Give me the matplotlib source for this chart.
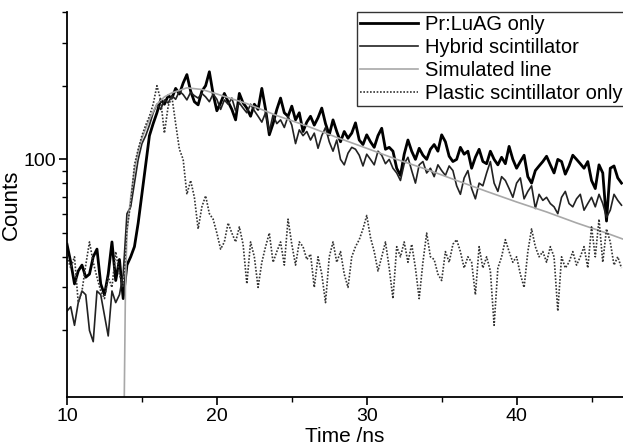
import numpy as np
import matplotlib
matplotlib.use("Agg")
import matplotlib.pyplot as plt
from matplotlib.ticker import LogLocator, NullFormatter, FixedLocator, FixedFormatter

plt.rcParams["font.family"] = ["Liberation Sans", "DejaVu Sans"]

# ── Data ─────────────────────────────────────────────────────────────────────
time_ns = np.arange(10.0, 47.001, 0.25)

prluag_counts = [
    45, 38, 31, 35, 37, 33, 34, 40, 43, 31, 28, 34, 46, 32, 39, 27,
    37, 40, 44, 55, 72, 95, 125, 140, 155, 175, 168, 182, 178, 195, 185, 205,
    222, 190, 172, 167, 190, 200, 228, 185, 158, 170, 186, 172, 160, 145, 186, 170,
    162, 150, 168, 160, 195, 160, 126, 140, 160, 178, 155, 150, 165, 145, 155, 130,
    142, 150, 138, 148, 162, 140, 126, 145, 130, 118, 130, 122, 128, 141, 120, 115,
    126, 118, 112, 125, 134, 110, 112, 108, 92, 86, 105, 120, 108, 100, 111, 104,
    100, 110, 115, 108, 126, 118, 103, 98, 100, 112, 105, 108, 92, 102, 110, 98,
    96, 108, 100, 95, 102, 96, 113, 100, 92, 98, 104, 85, 80, 90, 94, 98,
    103, 95, 88, 100, 98, 87, 94, 104, 100, 96, 92, 98, 82, 76, 95, 88,
    56, 92, 94, 84, 80,
]

hybrid_counts = [
    24, 25, 21, 26, 29, 28, 20, 18, 29, 28, 23, 19, 29, 26, 28, 34,
    60, 64, 80, 100, 116, 125, 138, 155, 168, 160, 175, 170, 182, 176, 190, 184,
    175, 188, 182, 178, 186, 180, 172, 185, 176, 160, 175, 168, 178, 158, 170, 162,
    155, 168, 158, 150, 142, 155, 130, 152, 140, 145, 135, 150, 138, 116, 132, 125,
    130, 120, 128, 111, 125, 135, 118, 108, 120, 100, 95, 106, 112, 110, 104, 94,
    105, 100, 95, 108, 104, 96, 100, 92, 88, 82, 96, 102, 90, 80, 95, 98,
    88, 92, 85, 95, 90, 86, 94, 90, 78, 72, 84, 90, 76, 69, 80, 78,
    88, 98, 80, 74, 85, 82, 76, 70, 80, 84, 69, 74, 78, 63, 72, 68,
    70, 66, 64, 60, 70, 74, 66, 64, 69, 72, 62, 66, 70, 64, 72, 66,
    58, 62, 72, 68, 65,
]

plastic_counts = [
    40, 36, 40, 26, 29, 37, 46, 38, 33, 29, 27, 33, 30, 42, 34, 30,
    52, 66, 95, 110, 125, 138, 150, 168, 200, 175, 128, 165, 180, 140, 110, 100,
    72, 82, 70, 52, 64, 71, 60, 57, 50, 43, 46, 55, 50, 46, 53, 45,
    31, 46, 40, 30, 38, 44, 50, 38, 42, 46, 37, 57, 45, 37, 46, 44,
    39, 41, 30, 40, 34, 26, 40, 46, 38, 42, 34, 30, 40, 44, 47, 52,
    59, 48, 42, 35, 40, 46, 36, 27, 44, 40, 46, 38, 45, 36, 27, 38,
    50, 40, 39, 34, 32, 42, 38, 45, 47, 42, 36, 40, 38, 28, 44, 36,
    40, 35, 21, 36, 40, 47, 42, 38, 40, 34, 30, 42, 52, 44, 40, 42,
    38, 44, 40, 24, 40, 36, 38, 42, 37, 40, 44, 36, 53, 40, 57, 38,
    52, 46, 37, 40, 36,
]

sim_time_ns = [13.8, 13.9, 14.0, 14.25, 14.5, 14.75, 15.0, 15.5, 16.0, 16.5, 17.0,
               18.0, 19.0, 20.0, 22.0, 24.0, 26.0, 28.0, 30.0, 32.0, 34.0, 36.0,
               38.0, 40.0, 42.0, 44.0, 46.0, 47.2]
sim_counts = [8, 30, 50, 70, 90, 108, 122, 146, 168, 180, 187,
              196, 193, 185, 169, 151, 137, 123, 111, 100, 91, 82,
              74, 67, 61, 55, 50, 47]

SERIES_LABELS = ["Pr:LuAG only", "Hybrid scintillator", "Simulated line",
                 "Plastic scintillator only"]

# ── Plot ─────────────────────────────────────────────────────────────────────
fig = plt.figure(figsize=(6.23, 4.46), dpi=100)
ax = fig.add_axes([67 / 623, 1 - 397 / 446, 1 - 67 / 623, (397 - 12) / 446])

ax.plot(time_ns, prluag_counts, color="#000000", lw=2.0, label=SERIES_LABELS[0])
ax.plot(time_ns, hybrid_counts, color="#222222", lw=1.2, label=SERIES_LABELS[1])
ax.plot(sim_time_ns, sim_counts, color="#a8a8a8", lw=1.2, label=SERIES_LABELS[2])
ax.plot(time_ns, plastic_counts, color="#333333", lw=1.2,
        linestyle=(0, (1, 1)), label=SERIES_LABELS[3])

ax.set_yscale("log")
ax.set_xlim(10, 47.1)
ax.set_ylim(10.7, 400)

ax.xaxis.set_major_locator(FixedLocator([10, 20, 30, 40]))
ax.xaxis.set_minor_locator(FixedLocator([15, 25, 35, 45]))
ax.yaxis.set_major_locator(FixedLocator([100]))
ax.yaxis.set_major_formatter(FixedFormatter(["100"]))
ax.yaxis.set_minor_locator(LogLocator(base=10, subs=np.arange(2, 10)))
ax.yaxis.set_minor_formatter(NullFormatter())

ax.tick_params(which="major", direction="out", length=6, width=1.2,
               labelsize=14, pad=2)
ax.tick_params(which="minor", direction="out", length=3.5, width=1.0)

for side in ("top", "right"):
    ax.spines[side].set_visible(False)
for side in ("left", "bottom"):
    ax.spines[side].set_linewidth(1.3)

ax.set_xlabel("Time /ns", fontsize=15, labelpad=1)
ax.set_ylabel("Counts", fontsize=16, labelpad=1)

leg = ax.legend(loc="upper left", bbox_to_anchor=(357 / 623, 1 - 12 / 446),
                bbox_transform=fig.transFigure, fontsize=14.5, frameon=True,
                fancybox=False, edgecolor="black", borderpad=0.15,
                labelspacing=0.2, handlelength=2.9, handletextpad=0.35,
                borderaxespad=0)
leg.get_frame().set_linewidth(1.0)

fig.savefig("out.png", dpi=100)
